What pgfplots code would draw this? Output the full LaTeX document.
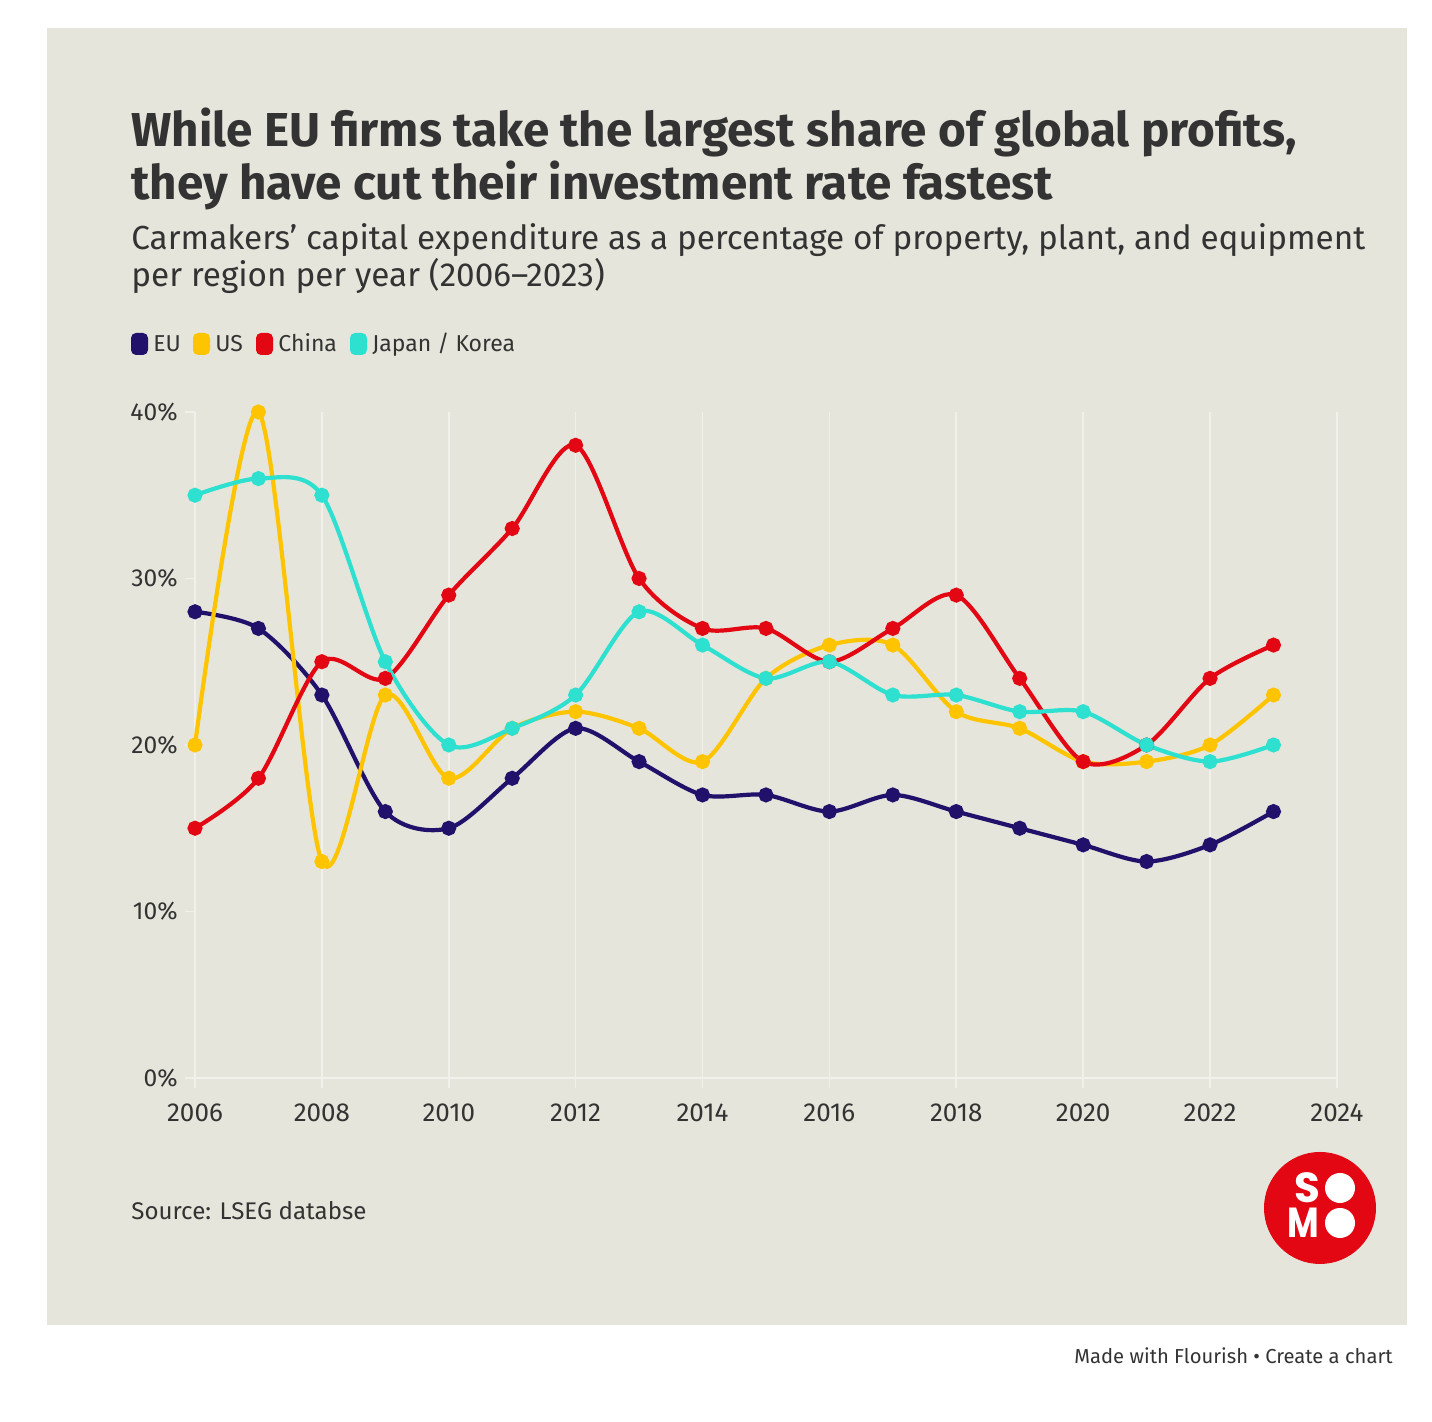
\documentclass[border=0pt]{standalone}
\usepackage{fontspec}
\setmainfont{Fira Sans}
\newfontfamily\logofont{Poppins}
\usepackage{graphicx}
\usepackage{pgfplots}
\pgfplotsset{compat=1.18}
\usepackage{pgfplotstable}

\definecolor{bg}{RGB}{230,229,219}
\definecolor{txt}{RGB}{51,51,51}
\definecolor{eu}{RGB}{33,17,107}
\definecolor{us}{RGB}{255,196,0}
\definecolor{cn}{RGB}{227,6,19}
\definecolor{jk}{RGB}{45,224,208}
\definecolor{gridc}{RGB}{241,240,234}

\pgfplotstableread{
year eu us cn jk
2006 28 20 15 35
2007 27 40 18 36
2008 23 13 25 35
2009 16 23 24 25
2010 15 18 29 20
2011 18 21 33 21
2012 21 22 38 23
2013 19 21 30 28
2014 17 19 27 26
2015 17 24 27 24
2016 16 26 25 25
2017 17 26 27 23
2018 16 22 29 23
2019 15 21 24 22
2020 14 19 19 22
2021 13 19 20 20
2022 14 20 24 19
2023 16 23 26 20
}\datatable

\begin{document}
\begin{tikzpicture}[x=0.5pt,y=0.5pt]
\fill[white] (0,0) rectangle (1432,1422);
\fill[bg] (47,97) rectangle (1407,1394);
% title
\node[anchor=base west, inner sep=0pt, text=txt, font=\fontsize{23.8}{28}\bfseries\selectfont] at (131,1422-147) {While EU firms take the largest share of global profits,};
\node[anchor=base west, inner sep=0pt, text=txt, font=\fontsize{23.8}{28}\bfseries\selectfont] at (131,1422-200) {they have cut their investment rate fastest};
\node[anchor=base west, inner sep=0pt, text=txt, font=\fontsize{16.65}{20}\selectfont] at (131,1422-250) {Carmakers’ capital expenditure as a percentage of property, plant, and equipment};
\node[anchor=base west, inner sep=0pt, text=txt, font=\fontsize{16.65}{20}\selectfont] at (131,1422-287) {per region per year (2006–2023)};
% legend
\fill[eu, rounded corners=2.5pt] (131,1422-355) rectangle (148,1422-333);
\node[anchor=base west, inner sep=0pt, text=txt, font=\fontsize{11.5}{13}\selectfont] at (153,1422-352) {EU};
\fill[us, rounded corners=2.5pt] (193,1422-355) rectangle (210,1422-333);
\node[anchor=base west, inner sep=0pt, text=txt, font=\fontsize{11.5}{13}\selectfont] at (215,1422-352) {US};
\fill[cn, rounded corners=2.5pt] (256,1422-355) rectangle (273,1422-333);
\node[anchor=base west, inner sep=0pt, text=txt, font=\fontsize{11.5}{13}\selectfont] at (278,1422-352) {China};
\fill[jk, rounded corners=2.5pt] (350,1422-355) rectangle (367,1422-333);
\node[anchor=base west, inner sep=0pt, text=txt, font=\fontsize{11.5}{13}\selectfont] at (372,1422-352) {Japan / Korea};
% source
\node[anchor=base west, inner sep=0pt, text=txt, font=\fontsize{12.05}{14}\selectfont] at (131,1422-1220) {Source: LSEG databse};
% footer
\node[anchor=base east, inner sep=0pt, text=txt, font=\fontsize{10.1}{12}\selectfont] at (1393,1422-1364) {Made with Flourish • Create a chart};
% logo
\fill[cn] (1320,1422-1208) circle (56);
\fill[white] (1340,1422-1188) circle (15);
\fill[white] (1340,1422-1223) circle (15);
\node[anchor=base west, inner sep=0pt, text=white, font=\logofont\fontsize{21}{21}\bfseries\selectfont] at (1294,1422-1203) {S};
\node[anchor=base west, inner sep=0pt, text=white, font=\logofont\fontsize{21}{21}\bfseries\selectfont] at (1287,1422-1238) {\scalebox{0.82}[1]{M}};

\begin{axis}[
  at={(97.5pt,172pt)}, anchor=south west,
  x=31.72pt, y=8.325pt,
  xmin=2006, xmax=2024, ymin=0, ymax=40,
  clip=false,
  axis x line*=bottom, axis y line*=left,
  axis line style={gridc, line width=0.8pt},
  xtick={2006,2008,...,2024},
  xticklabels={2006,2008,2010,2012,2014,2016,2018,2020,2022,2024},
  ytick={0,10,20,30,40},
  yticklabels={0\%,10\%,20\%,30\%,40\%},
  xmajorgrids, major grid style={gridc, line width=0.8pt},
  tick align=outside, major tick length=5pt,
  tick style={gridc, line width=0.8pt},
  xticklabel style={anchor=base, inner sep=0pt, yshift=-17pt, text=txt, font=\fontsize{13}{15}\selectfont},
  yticklabel style={anchor=east, inner sep=0pt, xshift=-3.5pt, text=txt, font=\fontsize{12.3}{14}\selectfont},
  every axis plot/.append style={line width=2.1pt, smooth, tension=0.5, mark=*, mark size=2.7pt, mark options={solid}},
]
\addplot[eu] table[x=year,y=eu]{\datatable};
\addplot[us] table[x=year,y=us]{\datatable};
\addplot[cn] table[x=year,y=cn]{\datatable};
\addplot[jk] table[x=year,y=jk]{\datatable};
\end{axis}
\end{tikzpicture}
\end{document}
